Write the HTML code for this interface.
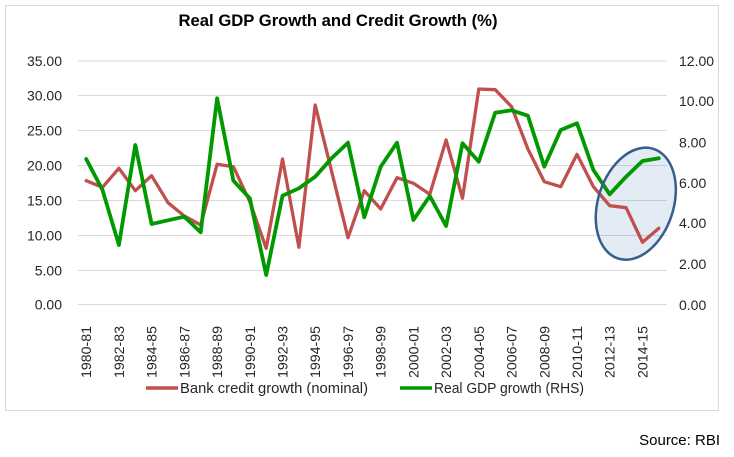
<!DOCTYPE html>
<html>
<head>
<meta charset="utf-8">
<style>
html,body{margin:0;padding:0;background:#fff;}
svg{display:block;}
text{font-family:"Liberation Sans",Arial,sans-serif;}
</style>
</head>
<body>
<svg width="734" height="457" viewBox="0 0 734 457" xmlns="http://www.w3.org/2000/svg">
  <rect x="0" y="0" width="734" height="457" fill="#fff"/>
  <rect x="5.5" y="5.5" width="713" height="405" fill="#fff" stroke="#d9d9d9" stroke-width="1"/>

  <text x="338" y="26" font-size="16.5" font-weight="bold" fill="#000" text-anchor="middle" textLength="319" lengthAdjust="spacingAndGlyphs">Real GDP Growth and Credit Growth (%)</text>

  <g stroke="#d9d9d9" stroke-width="1">
    <line x1="78" y1="61" x2="667" y2="61"/>
    <line x1="78" y1="95.5" x2="667" y2="95.5"/>
    <line x1="78" y1="130.5" x2="667" y2="130.5"/>
    <line x1="78" y1="165.5" x2="667" y2="165.5"/>
    <line x1="78" y1="200.5" x2="667" y2="200.5"/>
    <line x1="78" y1="235.5" x2="667" y2="235.5"/>
    <line x1="78" y1="270.5" x2="667" y2="270.5"/>
    <line x1="78" y1="304.5" x2="667" y2="304.5"/>
  </g>

  <g font-size="14" fill="#262626" text-anchor="end">
    <text x="62" y="66">35.00</text>
    <text x="62" y="100.5">30.00</text>
    <text x="62" y="135.5">25.00</text>
    <text x="62" y="170.5">20.00</text>
    <text x="62" y="205.5">15.00</text>
    <text x="62" y="240.5">10.00</text>
    <text x="62" y="275.5">5.00</text>
    <text x="62" y="309.5">0.00</text>
  </g>

  <g font-size="14" fill="#262626" text-anchor="start">
    <text x="679" y="66">12.00</text>
    <text x="679" y="106">10.00</text>
    <text x="679" y="147.5">8.00</text>
    <text x="679" y="188">6.00</text>
    <text x="679" y="228">4.00</text>
    <text x="679" y="269">2.00</text>
    <text x="679" y="310">0.00</text>
  </g>

  <g font-size="14" fill="#262626" text-anchor="end">
    <text transform="translate(91.2,326) rotate(-90)" textLength="52" lengthAdjust="spacingAndGlyphs">1980-81</text>
    <text transform="translate(123.9,326) rotate(-90)" textLength="52" lengthAdjust="spacingAndGlyphs">1982-83</text>
    <text transform="translate(156.6,326) rotate(-90)" textLength="52" lengthAdjust="spacingAndGlyphs">1984-85</text>
    <text transform="translate(189.3,326) rotate(-90)" textLength="52" lengthAdjust="spacingAndGlyphs">1986-87</text>
    <text transform="translate(222.1,326) rotate(-90)" textLength="52" lengthAdjust="spacingAndGlyphs">1988-89</text>
    <text transform="translate(254.8,326) rotate(-90)" textLength="52" lengthAdjust="spacingAndGlyphs">1990-91</text>
    <text transform="translate(287.5,326) rotate(-90)" textLength="52" lengthAdjust="spacingAndGlyphs">1992-93</text>
    <text transform="translate(320.2,326) rotate(-90)" textLength="52" lengthAdjust="spacingAndGlyphs">1994-95</text>
    <text transform="translate(353,326) rotate(-90)" textLength="52" lengthAdjust="spacingAndGlyphs">1996-97</text>
    <text transform="translate(385.7,326) rotate(-90)" textLength="52" lengthAdjust="spacingAndGlyphs">1998-99</text>
    <text transform="translate(418.4,326) rotate(-90)" textLength="52" lengthAdjust="spacingAndGlyphs">2000-01</text>
    <text transform="translate(451.1,326) rotate(-90)" textLength="52" lengthAdjust="spacingAndGlyphs">2002-03</text>
    <text transform="translate(483.8,326) rotate(-90)" textLength="52" lengthAdjust="spacingAndGlyphs">2004-05</text>
    <text transform="translate(516.6,326) rotate(-90)" textLength="52" lengthAdjust="spacingAndGlyphs">2006-07</text>
    <text transform="translate(549.3,326) rotate(-90)" textLength="52" lengthAdjust="spacingAndGlyphs">2008-09</text>
    <text transform="translate(582,326) rotate(-90)" textLength="52" lengthAdjust="spacingAndGlyphs">2010-11</text>
    <text transform="translate(614.7,326) rotate(-90)" textLength="52" lengthAdjust="spacingAndGlyphs">2012-13</text>
    <text transform="translate(647.5,326) rotate(-90)" textLength="52" lengthAdjust="spacingAndGlyphs">2014-15</text>
  </g>

  <!-- ellipse fill -->
  <ellipse cx="635.8" cy="203.7" rx="37.7" ry="57.6" transform="rotate(18 635.8 203.7)" fill="rgba(79,129,189,0.16)" stroke="none"/>

  <polyline fill="none" stroke="#c0504d" stroke-width="3.3" stroke-linejoin="round" stroke-linecap="round"
    points="86.2,180.7 102.5,187.3 118.9,168.3 135.3,190.7 151.6,175.7 168,202.7 184.3,216 200.7,225 217.1,164.3 233.4,166.7 249.8,201.7 266.2,248.3 282.5,159 298.9,247.3 315.2,105 331.6,171.3 348,237.7 364.3,190.7 380.7,209 397,177.7 413.4,183.3 429.8,194.3 446.1,140 462.5,198.3 478.8,89 495.2,89.7 511.6,106.7 527.9,149 544.3,181.7 560.7,186.7 577,154.3 593.4,186.7 609.7,205.7 626.1,207.7 642.5,242.3 658.8,228.3"/>

  <polyline fill="none" stroke="#009900" stroke-width="3.8" stroke-linejoin="round" stroke-linecap="round"
    points="86.2,159 102.5,190 118.9,245 135.3,145 151.6,224 168,220.3 184.3,216.7 200.7,232.3 217.1,98.3 233.4,180.7 249.8,198.3 266.2,275 282.5,195.7 298.9,188.3 315.2,176.7 331.6,158.3 348,142.7 364.3,217.3 380.7,166.7 397,142.7 413.4,220 429.8,196 446.1,226 462.5,143.3 478.8,161.7 495.2,112.7 511.6,110.3 527.9,115.7 544.3,166.7 560.7,130 577,123.3 593.4,170 609.7,194.3 626.1,176.7 642.5,161 658.8,158.3"/>

  <!-- ellipse outline -->
  <ellipse cx="635.8" cy="203.7" rx="37.7" ry="57.6" transform="rotate(18 635.8 203.7)" fill="none" stroke="#385d8a" stroke-width="2.5"/>

  <!-- legend -->
  <line x1="146" y1="388" x2="178" y2="388" stroke="#c0504d" stroke-width="3.5"/>
  <text x="180" y="393" font-size="14.5" fill="#262626" textLength="188" lengthAdjust="spacingAndGlyphs">Bank credit growth (nominal)</text>
  <line x1="400" y1="388" x2="432" y2="388" stroke="#009900" stroke-width="3.5"/>
  <text x="434" y="393" font-size="14.5" fill="#262626" textLength="150" lengthAdjust="spacingAndGlyphs">Real GDP growth (RHS)</text>

  <text x="720" y="445" font-size="15" fill="#000" text-anchor="end">Source: RBI</text>
</svg>
</body>
</html>
